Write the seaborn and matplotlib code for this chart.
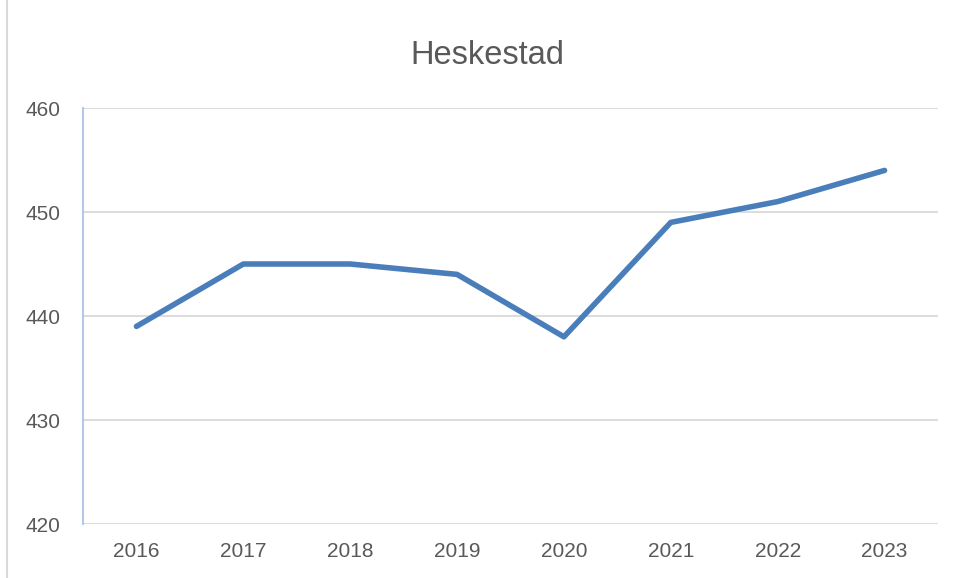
import matplotlib
matplotlib.use("Agg")
import matplotlib.pyplot as plt
import seaborn as sns
import pandas as pd

years = ["2016", "2017", "2018", "2019", "2020", "2021", "2022", "2023"]
values = [439, 445, 445, 444, 438, 449, 451, 454]
yticks = [420, 430, 440, 450, 460]

df = pd.DataFrame({"year": years, "value": values})

sns.set_style("white")
plt.rcParams["font.family"] = ["Liberation Sans", "DejaVu Sans"]

fig = plt.figure(figsize=(9.57, 5.78), dpi=100)
ax = fig.add_axes([83 / 957, 1 - 524 / 578, 855 / 957, 416 / 578])

sns.lineplot(data=df, x="year", y="value", ax=ax, color="#4a7ebb",
             linewidth=4.0, solid_capstyle="round", solid_joinstyle="round", zorder=3)

ax.set_xlim(-0.5, len(years) - 0.5)
ax.set_ylim(420, 460)
ax.set_yticks(yticks)
ax.yaxis.grid(True, color="#d9d9d9", linewidth=1.3)
ax.set_axisbelow(True)
ax.set_xlabel("")
ax.set_ylabel("")
ax.tick_params(axis="both", length=0, labelsize=15, labelcolor="#595959")
ax.tick_params(axis="y", pad=16)
ax.tick_params(axis="x", pad=13)

for s in ["top", "right", "bottom"]:
    ax.spines[s].set_visible(False)
ax.spines["left"].set_color("#b4c7e7")
ax.spines["left"].set_linewidth(1.5)

fig.text(487 / 957, 1 - 55 / 578, "Heskestad", ha="center", va="center",
         fontsize=23.5, color="#595959")

# chart frame edge at the left
fig.add_artist(plt.Line2D([7 / 957, 7 / 957], [0, 1], color="#d9d9d9", linewidth=1.5))

fig.savefig("out.png", dpi=100)
